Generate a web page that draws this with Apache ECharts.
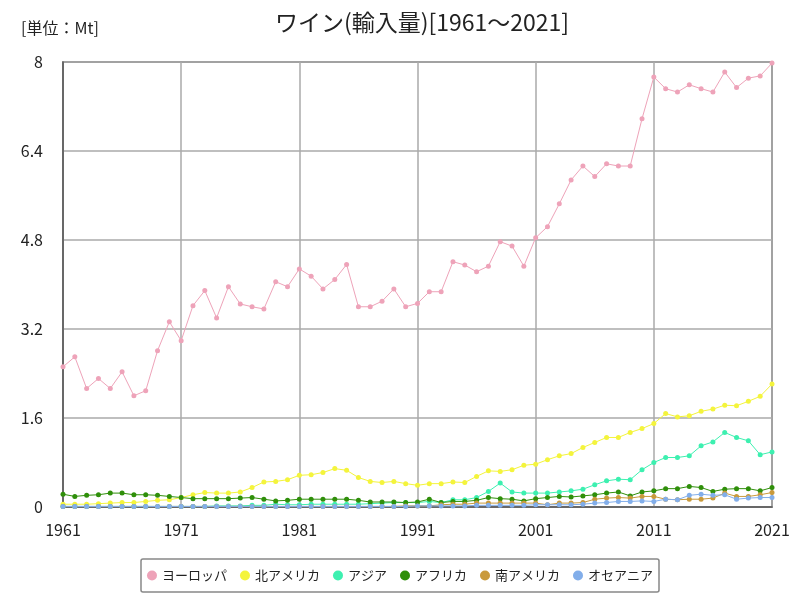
<!DOCTYPE html>
<html><head><meta charset="utf-8">
<script src="https://cdn.jsdelivr.net/npm/echarts@6/dist/echarts.min.js"></script>
<style>html,body{margin:0;padding:0;background:#fff}#c{width:800px;height:600px}</style>
</head><body><div id="c"></div>
<script>
const years = [];
for (let y = 1961; y <= 2021; y++) years.push(String(y));

const europe = [2.52,2.70,2.13,2.31,2.13,2.43,2.00,2.09,2.81,3.33,
2.99,3.62,3.89,3.40,3.96,3.65,3.60,3.56,4.05,3.96,
4.28,4.15,3.92,4.09,4.36,3.60,3.60,3.70,3.92,3.60,
3.66,3.87,3.87,4.41,4.35,4.23,4.33,4.77,4.69,4.33,
4.84,5.04,5.45,5.88,6.13,5.94,6.17,6.13,6.13,6.98,
7.73,7.52,7.46,7.59,7.52,7.46,7.82,7.54,7.71,7.75,7.98];

const northAmerica = [0.05,0.05,0.05,0.06,0.07,0.08,0.08,0.10,0.12,0.13,
0.17,0.22,0.26,0.25,0.25,0.27,0.35,0.45,0.46,0.49,
0.57,0.58,0.62,0.69,0.66,0.53,0.46,0.44,0.46,0.42,
0.39,0.42,0.42,0.45,0.44,0.55,0.65,0.64,0.67,0.75,
0.77,0.85,0.92,0.96,1.07,1.16,1.25,1.25,1.34,1.41,
1.50,1.68,1.62,1.64,1.72,1.76,1.83,1.82,1.90,1.99,2.21];

const asia = [0.01,0.01,0.01,0.01,0.01,0.01,0.01,0.01,0.01,0.01,
0.01,0.01,0.01,0.02,0.02,0.02,0.03,0.03,0.05,0.04,
0.04,0.05,0.05,0.05,0.05,0.05,0.06,0.07,0.08,0.08,
0.08,0.10,0.08,0.13,0.13,0.17,0.28,0.43,0.27,0.25,
0.25,0.25,0.27,0.29,0.32,0.40,0.47,0.50,0.49,0.67,
0.80,0.89,0.89,0.92,1.10,1.17,1.34,1.25,1.19,0.94,0.99];

const africa = [0.23,0.19,0.21,0.22,0.25,0.25,0.22,0.22,0.21,0.19,
0.17,0.15,0.15,0.15,0.15,0.16,0.17,0.14,0.11,0.12,
0.14,0.14,0.14,0.14,0.14,0.12,0.09,0.09,0.09,0.08,
0.09,0.14,0.08,0.10,0.10,0.12,0.17,0.15,0.14,0.11,
0.15,0.17,0.19,0.18,0.20,0.22,0.25,0.27,0.20,0.27,
0.29,0.33,0.33,0.37,0.35,0.28,0.32,0.33,0.33,0.29,0.35];

const southAmerica = [0.01,0.01,0.01,0.01,0.01,0.01,0.01,0.01,0.01,0.01,
0.01,0.01,0.01,0.01,0.01,0.01,0.01,0.01,0.01,0.01,
0.01,0.01,0.01,0.01,0.01,0.01,0.01,0.01,0.01,0.02,
0.02,0.02,0.04,0.05,0.05,0.07,0.07,0.07,0.07,0.07,
0.07,0.04,0.07,0.07,0.08,0.14,0.16,0.17,0.16,0.19,
0.19,0.14,0.13,0.14,0.14,0.16,0.25,0.19,0.19,0.22,0.26];

const oceania = [0.01,0.01,0.01,0.01,0.01,0.01,0.01,0.01,0.01,0.01,
0.01,0.01,0.01,0.01,0.01,0.01,0.01,0.01,0.01,0.01,
0.01,0.01,0.01,0.01,0.01,0.01,0.01,0.01,0.01,0.01,
0.02,0.02,0.02,0.02,0.02,0.03,0.03,0.03,0.03,0.03,
0.04,0.04,0.04,0.04,0.05,0.07,0.08,0.10,0.10,0.11,
0.10,0.14,0.13,0.21,0.23,0.21,0.22,0.14,0.16,0.17,0.17];

const seriesNames = ['ヨーロッパ','北アメリカ','アジア','アフリカ','南アメリカ','オセアニア'];
const seriesData = [europe, northAmerica, asia, africa, southAmerica, oceania];
const colors = ['#eea3b9','#f4f43c','#3df0b0','#2f8f0a','#c99a3c','#82aeea'];

const FONT = '"Noto Sans CJK JP", "Noto Sans", sans-serif';
const chart = echarts.init(document.getElementById('c'), null, {renderer: 'canvas'});
chart.setOption({
  animation: false,
  backgroundColor: '#fff',
  color: colors,
  title: [
    {text: 'ワイン(輸入量)[1961～2021]', left: 417, top: 6, textAlign: 'center',
     textStyle: {fontFamily: FONT, fontSize: 23, fontWeight: 'normal', color: '#222'}},
    {text: '[単位：Mt]', left: 16, top: 15,
     textStyle: {fontFamily: FONT, fontSize: 16, fontWeight: 'normal', color: '#222'}}
  ],
  legend: {
    bottom: 8, left: 'center',
    data: seriesNames,
    icon: 'circle', itemWidth: 10, itemHeight: 10, itemGap: 13,
    borderColor: '#888', borderWidth: 1.5, borderRadius: 2,
    padding: [10, 6, 10, 6],
    textStyle: {fontFamily: FONT, fontSize: 13, color: '#222'}
  },
  grid: {left: 63, right: 28, top: 62, bottom: 93, show: true, borderColor: '#666', borderWidth: 1.5},
  xAxis: {
    type: 'category', data: years, boundaryGap: false,
    axisLine: {lineStyle: {color: '#555', width: 1.5}},
    axisTick: {show: false},
    axisLabel: {interval: 9, fontFamily: FONT, fontSize: 16, color: '#222', margin: 15},
    splitLine: {show: true, interval: 9, lineStyle: {color: '#aaa', width: 1.5}}
  },
  yAxis: {
    type: 'value', min: 0, max: 8, interval: 1.6,
    axisLine: {show: true, lineStyle: {color: '#555', width: 1.5}},
    axisTick: {show: false},
    axisLabel: {fontFamily: FONT, fontSize: 16, color: '#222', margin: 20},
    splitLine: {show: true, lineStyle: {color: '#aaa', width: 1.5}}
  },
  series: seriesNames.map((n, i) => ({
    name: n, type: 'line', data: seriesData[i],
    symbol: 'circle', symbolSize: 5, showSymbol: true,
    lineStyle: {width: 1, color: colors[i]},
    itemStyle: {color: colors[i]}
  }))
});
</script></body></html>
